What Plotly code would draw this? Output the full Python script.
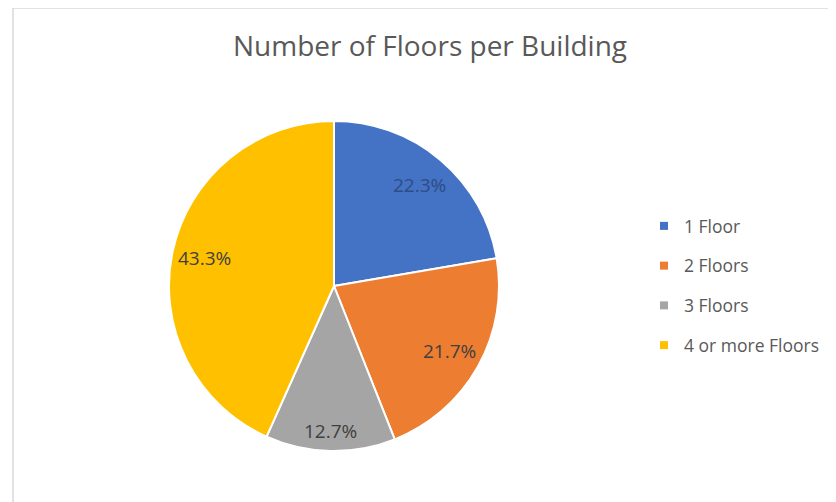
import math
import plotly.graph_objects as go

categories = ["1 Floor", "2 Floors", "3 Floors", "4 or more Floors"]
shares = [22.3, 21.7, 12.7, 43.3]
colors = ["#4472C4", "#ED7D31", "#A5A5A5", "#FFC000"]
label_colors = ["#2E4C86", "#404040", "#404040", "#404040"]

W, H = 836, 502
off = 8  # page body margin: figure is drawn 8px right/down in the viewport
cx, cy, r = 334, 286, 165


def px_x(x):
    return (x - off) / W


def px_y(y):
    return 1 - (y - off) / H


fig = go.Figure()
fig.add_trace(go.Pie(
    labels=categories,
    values=shares,
    sort=False,
    direction="clockwise",
    rotation=0,
    marker=dict(colors=colors, line=dict(color="white", width=2)),
    textinfo="none",
    showlegend=False,
    domain=dict(x=[px_x(cx - r), px_x(cx + r)], y=[px_y(cy + r), px_y(cy - r)]),
))

# legend entries (one per category, grouped so the gap matches the reference)
for cat, col in zip(categories, colors):
    fig.add_trace(go.Scatter(
        x=[None], y=[None], mode="markers", name=cat, legendgroup=cat,
        marker=dict(symbol="square", size=8, color=col), showlegend=True,
    ))

# data labels placed like Excel best-fit (along slice mid-angle)
total = sum(shares)
cum = 0.0
annotations = []
for v, lc in zip(shares, label_colors):
    mid = (cum + v / 2) / total * 2 * math.pi
    cum += v
    f = 0.8 if v / total > 0.15 else 0.88
    x = cx + f * r * math.sin(mid)
    y = cy - f * r * math.cos(mid)
    annotations.append(dict(
        text=f"{v / total * 100:.1f}%", x=px_x(x), y=px_y(y), xref="paper", yref="paper",
        showarrow=False, xanchor="center", yanchor="middle",
        font=dict(family="Open Sans", size=19, color=lc),
    ))

fig.update_layout(
    width=W, height=H,
    margin=dict(l=0, r=0, t=0, b=0),
    paper_bgcolor="white",
    plot_bgcolor="white",
    xaxis=dict(visible=False), yaxis=dict(visible=False),
    title=dict(text="Number of Floors per Building", x=422 / W, xanchor="center",
               y=1 - 38 / H, yanchor="middle",
               font=dict(family="Open Sans", size=28, color="#595959")),
    showlegend=True,
    legend=dict(x=636 / W, y=1 - 200 / H, xanchor="left", yanchor="top",
                font=dict(family="Open Sans", size=17.5, color="#595959"),
                traceorder="grouped", tracegroupgap=14, itemwidth=30,
                bgcolor="rgba(0,0,0,0)"),
    annotations=annotations,
    shapes=[dict(type="rect", xref="paper", yref="paper", x0=px_x(13), x1=1.05, y0=-0.05, y1=1.0,
                 line=dict(color="#d9d9d9", width=1.5))],
)

fig.write_html("out.html")
